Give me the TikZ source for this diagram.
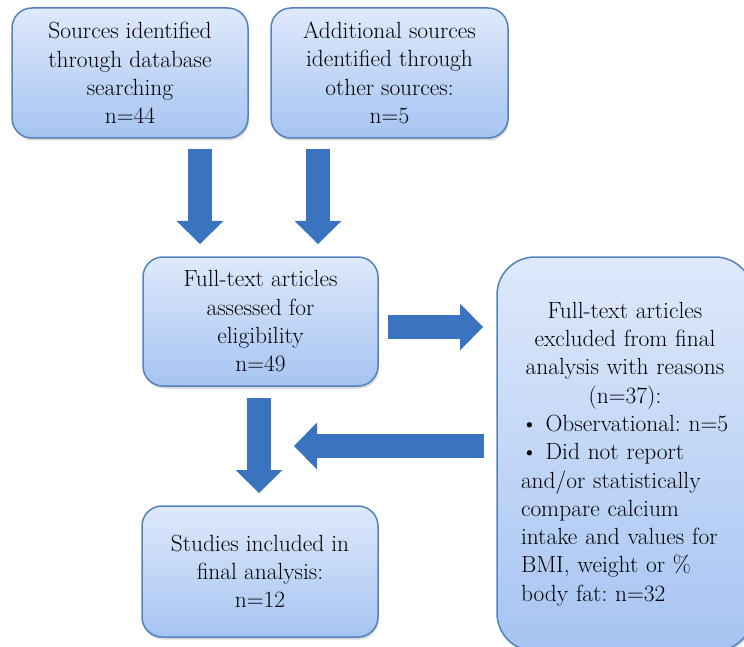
\documentclass[tikz,border=0pt]{standalone}
\usetikzlibrary{arrows.meta, shadows}

\definecolor{boxline}{RGB}{84,130,190}
\definecolor{boxtop}{RGB}{222,233,251}
\definecolor{boxbottom}{RGB}{166,196,242}
\definecolor{arrowblue}{RGB}{58,116,192}

\frenchspacing

\tikzset{
    stagebox/.style={draw=boxline, line width=1.5pt, rounded corners=20pt,
        top color=boxtop, bottom color=boxbottom, align=center, inner sep=0pt,
        font=\rmfamily\fontsize{23.4}{28.3}\selectfont,
        drop shadow={opacity=0.3, shadow xshift=1pt, shadow yshift=-2.5pt}},
    fatarrow/.style={draw=arrowblue, line width=24pt,
        -{Triangle[length=23pt, width=47pt, line width=0pt]}},
}

\begin{document}
\begin{tikzpicture}[x=1pt, y=-1pt]
    \clip (0,0) rectangle (744,647);

    \node[stagebox, minimum width=236pt, minimum height=130pt] (database) at (130,73)
        {Sources identified\\ through database\\ searching\\ n=44};
    \node[stagebox, minimum width=237pt, minimum height=130pt] (other) at (389.5,73)
        {Additional sources\\ identified through\\ other sources:\\ n=5};
    \node[stagebox, minimum width=235pt, minimum height=129pt] (fulltext) at (260.5,321.5)
        {Full-text articles\\ assessed for\\ eligibility\\ n=49};
    \node[stagebox, minimum width=236pt, minimum height=131pt] (included) at (260,571.5)
        {Studies included in\\ final analysis:\\ n=12};
    \node[stagebox, rounded corners=38pt, minimum width=256pt, minimum height=394pt,
        text width=208pt] (excluded) at (625,454)
        {Full-text articles\\ excluded from final\\ analysis with reasons\\ (n=37):\par
         \parbox[t]{208pt}{\raggedright
         \textbullet{} Observational: n=5\\ \textbullet{} Did not report\\
         and/or statistically\\ compare calcium\\ intake and values for\\
         BMI, weight or \%\\ body fat: n=32}};

    % arrow ends
    \coordinate (databaseOut) at (200,149);
    \coordinate (databaseIn) at (200,244);
    \coordinate (otherOut) at (318,149);
    \coordinate (otherIn) at (318,244);
    \coordinate (fulltextOut) at (388,327);
    \coordinate (excludedIn) at (483,327);
    \coordinate (excludedOut) at (484,446);
    \coordinate (returnIn) at (294,446);
    \coordinate (fulltextDown) at (259,398);
    \coordinate (includedIn) at (259,493);

    \draw[fatarrow] (databaseOut) -- (databaseIn);
    \draw[fatarrow] (otherOut) -- (otherIn);
    \draw[fatarrow] (fulltextOut) -- (excludedIn);
    \draw[fatarrow] (excludedOut) -- (returnIn);
    \draw[fatarrow] (fulltextDown) -- (includedIn);
\end{tikzpicture}
\end{document}
